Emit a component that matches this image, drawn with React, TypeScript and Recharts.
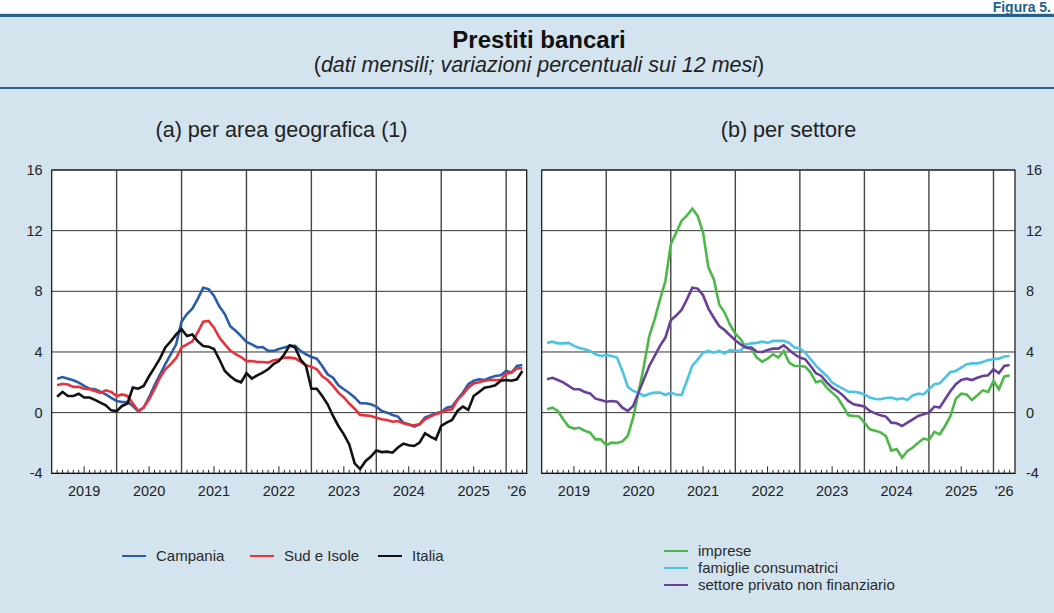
import React from 'react';
import { LineChart, Line, XAxis, YAxis, CartesianGrid, ReferenceLine, ReferenceArea } from 'recharts';

// Jan 2019 (1) ... Mar 2026 (87)
const campania = [2.24,2.35,2.24,2.13,1.98,1.76,1.58,1.54,1.38,1.2,0.97,0.77,0.7,0.7,0.44,0.09,0.33,1.0,1.8,2.5,3.2,3.85,4.5,6.0,6.5,6.86,7.5,8.24,8.15,7.7,7.0,6.5,5.7,5.4,5.05,4.66,4.5,4.3,4.33,4.07,4.07,4.2,4.3,4.4,4.4,4.07,3.85,3.67,3.56,3.08,2.53,2.3,1.8,1.54,1.3,1.0,0.62,0.62,0.55,0.4,0.11,0,-0.15,-0.26,-0.66,-0.77,-0.92,-0.77,-0.33,-0.18,-0.04,0.04,0.33,0.4,0.88,1.32,1.87,2.1,2.2,2.15,2.3,2.42,2.46,2.75,2.64,3.08,3.14];
const sudIsole = [1.8,1.9,1.85,1.7,1.7,1.58,1.54,1.43,1.3,1.47,1.36,1.1,1.2,1.1,0.6,0.12,0.33,0.88,1.54,2.3,2.86,3.2,3.6,4.3,4.5,4.7,5.3,6.0,6.05,5.6,4.95,4.5,4.1,3.85,3.67,3.4,3.4,3.34,3.34,3.3,3.45,3.5,3.63,3.63,3.58,3.36,3.12,3.03,2.86,2.4,2.15,1.76,1.32,1.0,0.6,0.26,-0.15,-0.18,-0.22,-0.33,-0.44,-0.48,-0.6,-0.55,-0.7,-0.8,-0.84,-0.77,-0.44,-0.26,-0.1,0,0.15,0.22,0.84,1.2,1.65,1.93,2.0,2.1,2.15,2.15,2.15,2.57,2.64,2.92,2.92];
const italia = [1.05,1.36,1.1,1.1,1.25,1.0,1.0,0.84,0.66,0.48,0.15,0.1,0.44,0.6,1.65,1.58,1.76,2.4,2.97,3.56,4.3,4.7,5.16,5.5,5.05,5.16,4.7,4.4,4.35,4.2,3.5,2.75,2.4,2.13,2.0,2.6,2.25,2.46,2.64,2.86,3.2,3.4,3.85,4.44,4.3,3.5,3.08,1.58,1.58,1.1,0.55,-0.22,-0.88,-1.43,-2.1,-3.35,-3.72,-3.2,-2.9,-2.5,-2.6,-2.57,-2.64,-2.3,-2.04,-2.15,-2.2,-1.98,-1.36,-1.58,-1.76,-0.88,-0.66,-0.48,0.11,0.4,0.18,1.1,1.36,1.65,1.71,1.8,2.1,2.15,2.1,2.2,2.75];

const imprese = [0.22,0.33,0.11,-0.44,-0.92,-1.05,-1.0,-1.2,-1.32,-1.76,-1.76,-2.15,-1.98,-2.0,-1.9,-1.54,-0.33,1.32,3.08,5.05,6.15,7.47,8.68,11.1,11.87,12.64,13.0,13.45,12.97,11.87,9.56,8.8,7.14,6.6,5.8,5.2,4.84,4.29,4.18,3.63,3.36,3.56,3.85,3.63,4.07,3.3,3.08,3.08,3.03,2.64,2.0,2.1,1.65,1.32,1.0,0.44,-0.18,-0.22,-0.26,-0.66,-1.1,-1.2,-1.3,-1.54,-2.5,-2.4,-2.97,-2.53,-2.3,-1.98,-1.71,-1.8,-1.27,-1.43,-0.88,-0.22,0.92,1.25,1.2,0.84,1.14,1.47,1.36,2.09,1.54,2.37,2.46];
const famiglie = [4.6,4.68,4.57,4.57,4.6,4.4,4.26,4.18,4.07,3.85,3.74,3.8,3.74,3.63,2.75,1.71,1.43,1.32,1.1,1.25,1.32,1.32,1.16,1.32,1.2,1.16,2.1,3.1,3.5,3.95,4.07,3.95,4.07,3.9,4.13,4.07,4.1,4.5,4.57,4.6,4.68,4.6,4.73,4.73,4.73,4.6,4.29,4.24,3.96,3.52,3.08,2.75,2.42,1.98,1.76,1.58,1.38,1.38,1.32,1.2,1.0,0.9,0.88,0.97,1.0,0.88,0.95,0.84,1.14,1.25,1.2,1.54,1.87,1.93,2.3,2.68,2.75,2.97,3.19,3.25,3.25,3.34,3.47,3.52,3.56,3.7,3.74];
const settore = [2.2,2.3,2.15,2.0,1.76,1.54,1.54,1.36,1.27,0.92,0.84,0.72,0.77,0.72,0.33,0.11,0.44,1.32,2.2,3.08,3.74,4.4,4.95,6.1,6.4,6.77,7.47,8.24,8.18,7.74,6.86,6.26,5.71,5.45,5.1,4.78,4.5,4.29,4.29,4.02,4.0,4.13,4.22,4.22,4.44,4.13,3.85,3.63,3.52,3.08,2.6,2.42,2.0,1.65,1.43,1.14,0.77,0.55,0.48,0.4,0.11,-0.05,-0.18,-0.26,-0.66,-0.7,-0.88,-0.66,-0.44,-0.22,-0.11,0,0.4,0.33,0.88,1.43,1.87,2.15,2.24,2.15,2.3,2.42,2.46,2.86,2.6,3.08,3.14];

const yearLabels = ['2019', '2020', '2021', '2022', '2023', '2024', '2025'];
const lastYearLabel = "'26";
const yTicks = [-4, 0, 4, 8, 12, 16];
const yearBoundaries = [12, 24, 36, 48, 60, 72, 84];

const months = campania.map((_, i) => i + 1);
const monthTicks = [0, ...months];

const dataA = months.map((m, i) => ({ m, campania: campania[i], sud: sudIsole[i], italia: italia[i] }));
const dataB = months.map((m, i) => ({ m, imprese: imprese[i], famiglie: famiglie[i], settore: settore[i] }));

const FONT = '"Liberation Sans", Arial, Helvetica, sans-serif';
const BG = '#d3e4ee';
const RULE = '#21618a';

const C = {
  campania: '#2a5da9',
  sud: '#e8323b',
  italia: '#111111',
  imprese: '#4cb847',
  famiglie: '#4bc3e2',
  settore: '#68409b',
};

const MonthTick = (props: any) => {
  const { x, y, payload } = props;
  const v = payload.value as number;
  if (v === 0) return <g />;
  const isMid = v % 12 === 6;
  const isBoundary = v % 12 === 0;
  const len = isMid ? 7 : 3.5;
  let label: string | null = null;
  if (isMid && Math.floor(v / 12) < yearLabels.length) label = yearLabels[Math.floor(v / 12)];
  if (v === 86) label = lastYearLabel;
  return (
    <g>
      {!isBoundary && <line x1={x} x2={x} y1={y} y2={y - len} stroke="#222" strokeWidth={1} />}
      {label && (
        <text x={x} y={y + 23} textAnchor="middle" fontSize={14.5} fill="#222" fontFamily={FONT}>
          {label}
        </text>
      )}
    </g>
  );
};

const commonGrid = (
  <CartesianGrid vertical={false} stroke="#333" strokeWidth={1} fill="#ffffff" fillOpacity={1} />
);

const Panel = ({ data, keys, side, domainMax }: { data: any[]; keys: string[]; side: 'left' | 'right'; domainMax: number }) => {
  const isLeft = side === 'left';
  return (
    <LineChart
      width={isLeft ? 540 : 534}
      height={520}
      data={data}
      margin={isLeft ? { top: 170, right: 13.3, left: 11.7, bottom: 16.7 } : { top: 170, right: 4, left: 21.7, bottom: 16.7 }}
    >
      {commonGrid}
      {yearBoundaries.map((b) => (
        <ReferenceLine key={b} x={b} stroke="#444" strokeWidth={1.4} />
      ))}
      <XAxis
        dataKey="m"
        type="number"
        domain={[0, domainMax]}
        ticks={monthTicks}
        interval={0}
        tickSize={0}
        tickMargin={0}
        tickLine={false}
        axisLine={false}
        height={30}
        tick={<MonthTick />}
        allowDataOverflow
      />
      <YAxis
        orientation={isLeft ? 'left' : 'right'}
        domain={[-4, 16]}
        ticks={yTicks}
        interval={0}
        tickSize={0}
        tickMargin={isLeft ? 9 : 11}
        tickLine={false}
        axisLine={false}
        width={isLeft ? 40 : 35}
        tick={{ fontSize: 14.5, fill: '#222', fontFamily: FONT }}
        allowDataOverflow
      />
      {keys.map((k) => (
        <Line
          key={k}
          type="linear"
          dataKey={k}
          stroke={(C as any)[k]}
          strokeWidth={2.6}
          dot={false}
          activeDot={false}
          isAnimationActive={false}
        />
      ))}
      <ReferenceArea x1={0} x2={domainMax} y1={-4} y2={16} fill="none" stroke="#111" strokeWidth={1.2} ifOverflow="visible" />
    </LineChart>
  );
};

const LegendItem = ({ color, label, x, y }: { color: string; label: string; x: number; y: number }) => (
  <div style={{ position: 'absolute', left: x, top: y - 9, height: 18, display: 'flex', alignItems: 'center' }}>
    <div style={{ width: 24, height: 2.5, background: color, marginRight: 10 }} />
    <span style={{ fontSize: 15, color: '#2a2a2a', fontFamily: FONT, lineHeight: '18px', whiteSpace: 'nowrap' }}>{label}</span>
  </div>
);

export default function App() {
  return (
    <div style={{ position: 'absolute', left: 0, top: 0, width: 1054, height: 613, background: BG, overflow: 'hidden', fontFamily: FONT }}>
      <div style={{ position: 'absolute', left: 0, top: 0, width: 1054, height: 13, background: '#ffffff' }} />
      <div style={{ position: 'absolute', right: 3, top: 0, fontSize: 14, fontWeight: 'bold', color: RULE, whiteSpace: 'nowrap', lineHeight: '15px' }}>
        Figura 5.
      </div>
      <div style={{ position: 'absolute', left: 0, top: 14, width: 1054, height: 3, background: RULE }} />
      <div style={{ position: 'absolute', left: 12, top: 25, width: 1054, textAlign: 'center', fontSize: 24, fontWeight: 'bold', color: '#111', lineHeight: '30px' }}>
        Prestiti bancari
      </div>
      <div style={{ position: 'absolute', left: 12, top: 52, width: 1054, textAlign: 'center', fontSize: 21.5, color: '#222', lineHeight: '26px' }}>
        (<i>dati mensili; variazioni percentuali sui 12 mesi</i>)
      </div>
      <div style={{ position: 'absolute', left: 0, top: 87, width: 1054, height: 2, background: RULE }} />
      <div style={{ position: 'absolute', left: 44, width: 475, top: 117, textAlign: 'center', fontSize: 21.6, color: '#222', lineHeight: '26px' }}>
        (a) per area geografica (1)
      </div>
      <div style={{ position: 'absolute', left: 552, width: 473, top: 117, textAlign: 'center', fontSize: 21.6, color: '#222', lineHeight: '26px' }}>
        (b) per settore
      </div>

      <div style={{ position: 'absolute', left: 0, top: 0 }}>
        <Panel data={dataA} keys={['campania', 'sud', 'italia']} side="left" domainMax={87.8} />
      </div>
      <div style={{ position: 'absolute', left: 520, top: 0 }}>
        <Panel data={dataB} keys={['imprese', 'famiglie', 'settore']} side="right" domainMax={88} />
      </div>

      <LegendItem color={C.campania} label="Campania" x={122} y={556} />
      <LegendItem color={C.sud} label="Sud e Isole" x={250} y={556} />
      <LegendItem color={C.italia} label="Italia" x={378} y={556} />

      <LegendItem color={C.imprese} label="imprese" x={664} y={551} />
      <LegendItem color={C.famiglie} label="famiglie consumatrici" x={664} y={568} />
      <LegendItem color={C.settore} label="settore privato non finanziario" x={664} y={585} />
    </div>
  );
}
